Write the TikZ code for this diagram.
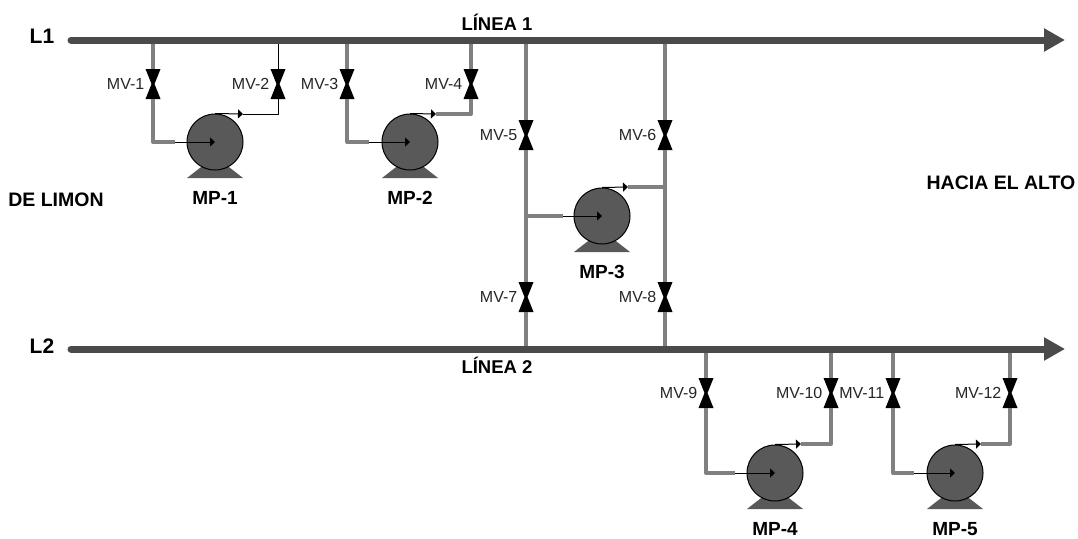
\documentclass[tikz,border=0pt]{standalone}
\usepackage{fontspec}
\setmainfont{Liberation Sans}
\usetikzlibrary{arrows.meta, positioning, backgrounds}
\definecolor{LineDark}{HTML}{4A4A4A}
\definecolor{PipeGray}{HTML}{808080}
\definecolor{PumpGray}{HTML}{595959}
\tikzset{
  mainline/.style={-{Triangle[length=21pt,width=22pt]}, line width=7pt, draw=LineDark, line cap=round},
  pipe/.style={line width=4pt, draw=PipeGray, line join=round},
  thinpipe/.style={line width=1pt, draw=black, line join=round},
  flowin/.style={-{Triangle[length=5pt,width=9pt]}, line width=1pt, draw=black},
  pumpbody/.style={circle, draw=black, line width=1pt, fill=PumpGray, minimum size=56pt, inner sep=0pt},
  valve/.style={minimum width=15pt, minimum height=30pt, inner sep=0pt, outer sep=0pt,
    path picture={\fill[black] (path picture bounding box.north west) -- (path picture bounding box.north east)
      -- ([xshift=1.5pt]path picture bounding box.center) -- (path picture bounding box.south east)
      -- (path picture bounding box.south west) -- ([xshift=-1.5pt]path picture bounding box.center) -- cycle;}},
  mvtext/.style={font=\fontsize{16}{18}\selectfont, text=black!85, inner sep=0pt},
  mptext/.style={font=\fontsize{19}{21}\bfseries\selectfont, inner sep=0pt},
  linetext/.style={font=\fontsize{18.5}{21}\bfseries\selectfont, inner sep=0pt},
  sidetext/.style={font=\fontsize{19.5}{21}\bfseries\selectfont, inner sep=0pt},
  endtext/.style={font=\fontsize{21}{23}\bfseries\selectfont, inner sep=0pt},
}
\newcommand{\pumpbase}[1]{\fill[PumpGray] (#1.center) ++(-10,22) -- ++(-18,14) -- ++(56,0) -- ++(-18,-14) -- cycle;}
\begin{document}
\begin{tikzpicture}[x=1pt,y=-1pt]
  \useasboundingbox (0,0) rectangle (1078,538);
  % main lines
  \node[endtext] (L1) at (42,36) {L1};
  \node[endtext] (L2) at (42,346) {L2};
  \coordinate (l1in) at (71,40);
  \coordinate (l1out) at (1065,40);
  \coordinate (l2in) at (71,349);
  \coordinate (l2out) at (1065,349);
  \node[linetext] (lin1) at (497,22) {LÍNEA 1};
  \node[linetext] (lin2) at (497,365) {LÍNEA 2};
  \node[sidetext] (limon) at (56,200) {DE LIMON};
  \node[sidetext] (alto) at (1001,183) {HACIA EL ALTO};
  % pumps
  \node[pumpbody] (MP1) at (215,142) {};
  \node[pumpbody] (MP2) at (410,142) {};
  \node[pumpbody] (MP3) at (602,216) {};
  \node[pumpbody] (MP4) at (775,473) {};
  \node[pumpbody] (MP5) at (955,473) {};
  \begin{scope}[on background layer]
    \pumpbase{MP1} \pumpbase{MP2} \pumpbase{MP3} \pumpbase{MP4} \pumpbase{MP5}
  \end{scope}
  \node[mptext, below=21pt of MP1] (tMP1) {MP-1};
  \node[mptext, below=21pt of MP2] (tMP2) {MP-2};
  \node[mptext, below=21pt of MP3] (tMP3) {MP-3};
  \node[mptext, below=21pt of MP4] (tMP4) {MP-4};
  \node[mptext, below=21pt of MP5] (tMP5) {MP-5};
  % valves
  \node[valve] (MV1) at (153,84) {};
  \node[valve] (MV2) at (278,84) {};
  \node[valve] (MV3) at (347,84) {};
  \node[valve] (MV4) at (471,84) {};
  \node[valve] (MV5) at (526,135) {};
  \node[valve] (MV6) at (665,135) {};
  \node[valve] (MV7) at (526,297) {};
  \node[valve] (MV8) at (665,297) {};
  \node[valve] (MV9) at (706,393) {};
  \node[valve] (MV10) at (831,393) {};
  \node[valve] (MV11) at (893,393) {};
  \node[valve] (MV12) at (1010,393) {};
  \node[mvtext, left=1pt of MV1] (tMV1) {MV-1};
  \node[mvtext, left=1pt of MV2] (tMV2) {MV-2};
  \node[mvtext, left=1pt of MV3] (tMV3) {MV-3};
  \node[mvtext, left=1pt of MV4] (tMV4) {MV-4};
  \node[mvtext, left=1pt of MV5] (tMV5) {MV-5};
  \node[mvtext, left=1pt of MV6] (tMV6) {MV-6};
  \node[mvtext, left=1pt of MV7] (tMV7) {MV-7};
  \node[mvtext, left=1pt of MV8] (tMV8) {MV-8};
  \node[mvtext, left=1pt of MV9] (tMV9) {MV-9};
  \node[mvtext, left=1pt of MV10] (tMV10) {MV-10};
  \node[mvtext, left=1pt of MV11] (tMV11) {MV-11};
  \node[mvtext, left=1pt of MV12] (tMV12) {MV-12};
  % inlet and outlet ends of the thick pipes
  \coordinate (in1) at (175,142);
  \coordinate (in2) at (369,142);
  \coordinate (in3) at (563,216);
  \coordinate (in4) at (735,473);
  \coordinate (in5) at (914,473);
  \coordinate (out1) at (243,114);
  \coordinate (out2) at (436,114);
  \coordinate (out3) at (628,187);
  \coordinate (out4) at (801,444);
  \coordinate (out5) at (981,444);
  % pipes
  \draw[pipe] (MV1.north) -- (MV1.north |- l1in);
  \draw[pipe] (MV1.south) |- (in1);
  \draw[thinpipe] (MV2.north) -- (MV2.north |- l1in);
  \draw[thinpipe] (MV2.south) |- (out1);
  \draw[pipe] (MV3.north) -- (MV3.north |- l1in);
  \draw[pipe] (MV3.south) |- (in2);
  \draw[pipe] (MV4.north) -- (MV4.north |- l1in);
  \draw[pipe] (MV4.south) |- (out2);
  \draw[pipe] (MV5.north) -- (MV5.north |- l1in);
  \draw[pipe] (MV5.south) -- (MV7.north);
  \draw[pipe] (MV7.south) -- (MV7.south |- l2in);
  \draw[pipe] (MV6.north) -- (MV6.north |- l1in);
  \draw[pipe] (MV6.south) -- (MV8.north);
  \draw[pipe] (MV8.south) -- (MV8.south |- l2in);
  \draw[pipe] (MV5.south |- in3) -- (in3);
  \draw[pipe] (MV6.south |- out3) -- (out3);
  \draw[pipe] (MV9.north) -- (MV9.north |- l2in);
  \draw[pipe] (MV9.south) |- (in4);
  \draw[pipe] (MV10.north) -- (MV10.north |- l2in);
  \draw[pipe] (MV10.south) |- (out4);
  \draw[pipe] (MV11.north) -- (MV11.north |- l2in);
  \draw[pipe] (MV11.south) |- (in5);
  \draw[pipe] (MV12.north) -- (MV12.north |- l2in);
  \draw[pipe] (MV12.south) |- (out5);
  % flow through the pumps
  \draw[flowin] (in1) -- (MP1.center);
  \draw[flowin] (in2) -- (MP2.center);
  \draw[flowin] (in3) -- (MP3.center);
  \draw[flowin] (in4) -- (MP4.center);
  \draw[flowin] (in5) -- (MP5.center);
  \draw[flowin] (MP1.north) -- (out1);
  \draw[flowin] (MP2.north) -- (out2);
  \draw[flowin] (MP3.north) -- (out3);
  \draw[flowin] (MP4.north) -- (out4);
  \draw[flowin] (MP5.north) -- (out5);
  \draw[mainline] (l1in) -- (l1out);
  \draw[mainline] (l2in) -- (l2out);
\end{tikzpicture}
\end{document}
